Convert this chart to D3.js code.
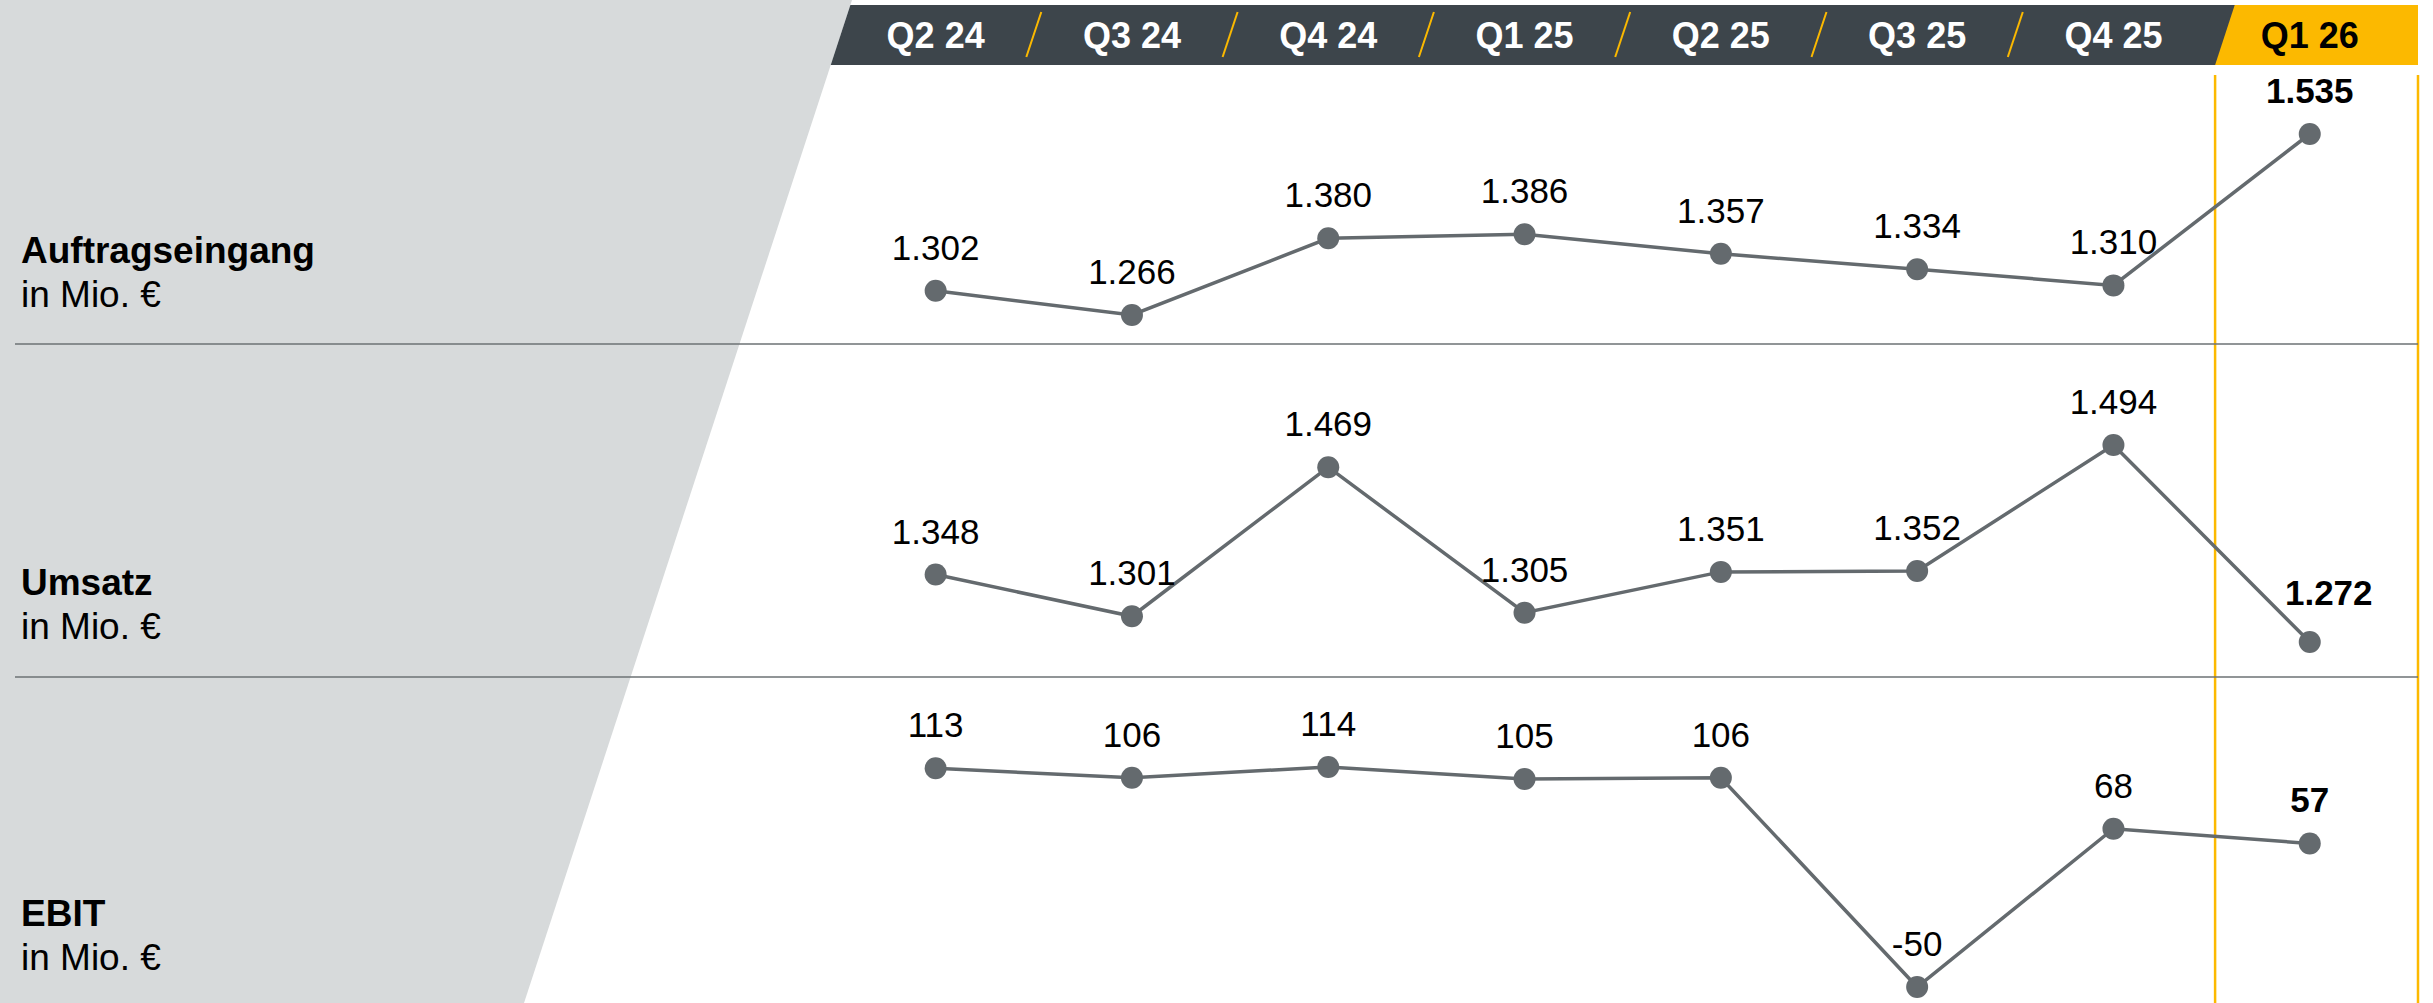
<!DOCTYPE html>
<html><head><meta charset="utf-8">
<script src="https://cdn.jsdelivr.net/npm/d3@7"></script>
<style>
html,body{margin:0;padding:0;background:#fff;}
svg{display:block;}
text{font-family:"Liberation Sans",Arial,Helvetica,sans-serif;}
</style></head>
<body>
<svg id="chart" width="2433" height="1003"></svg>
<script>
// ---- data ----
const quarters = ["Q2 24","Q3 24","Q4 24","Q1 25","Q2 25","Q3 25","Q4 25","Q1 26"];
const auftragseingang = [1302,1266,1380,1386,1357,1334,1310,1535];
const umsatz = [1348,1301,1469,1305,1351,1352,1494,1272];
const ebit = [113,106,114,105,106,-50,68,57];
const rowTitles = ["Auftragseingang","Umsatz","EBIT"];
const rowUnit = "in Mio. €";

// ---- layout ----
const W = 2433, H = 1003;
const svg = d3.select("#chart");
const gray = "#d7dadb", dark = "#3d454b", yellow = "#fcb900", lineCol = "#646a6e";
const slant = 0.327;          // dx per dy of the slanted edge
const panelTopX = 852;

const de = d3.formatLocale({decimal:",", thousands:".", grouping:[3], currency:["","€"], minus:"-"});
const fmt = de.format(",");

const x = d3.scaleBand().domain(quarters).range([837.5, 837.5 + 8*196.3]).padding(0);
const cx = q => x(q) + x.bandwidth()/2;

// left gray panel
svg.append("path")
  .attr("d", `M0,0 L${panelTopX},0 L${panelTopX - slant*H},${H} L0,${H} Z`)
  .attr("fill", gray);

// header band
const bandTop = 5, bandBot = 65;
const edgeX = y => panelTopX - slant*y;
const lastX0 = x(quarters[quarters.length-1]) + 3.5; // left edge of highlighted column at bottom
const rightX = 2418;
svg.append("path")
  .attr("d", `M${edgeX(bandTop)},${bandTop} L${lastX0 + slant*(bandBot-bandTop)+2},${bandTop} L${lastX0+2},${bandBot} L${edgeX(bandBot)},${bandBot} Z`)
  .attr("fill", dark);
svg.append("path")
  .attr("d", `M${lastX0 + slant*(bandBot-bandTop)},${bandTop} L${rightX},${bandTop} L${rightX},${bandBot} L${lastX0},${bandBot} Z`)
  .attr("fill", yellow);

// separators
quarters.slice(0, -2).forEach((q, i) => {
  const xm = x(quarters[i+1]);
  svg.append("line")
    .attr("x1", xm - 7.5).attr("y1", 57).attr("x2", xm + 7.5).attr("y2", 12)
    .attr("stroke", yellow).attr("stroke-width", 2);
});

// header labels
const hdr = svg.append("g").selectAll("text").data(quarters).join("text")
  .attr("x", d => cx(d)).attr("y", 48)
  .attr("text-anchor", "middle")
  .style("font-family", '"Liberation Sans Narrow","Arial Narrow","Liberation Sans",Arial,sans-serif')
  .attr("font-weight", "bold").attr("font-size", 36)
  .attr("fill", (d,i) => i === quarters.length-1 ? "#000" : "#fff")
  .text(d => d);
// compress if narrow face unavailable
hdr.each(function(d){
  const w = this.getComputedTextLength();
  const target = d.length * 19.2;
  if (w > target * 1.08) {
    const c = cx(d);
    d3.select(this).attr("transform", `translate(${c},0) scale(${target/w},1) translate(${-c},0)`);
  }
});

// highlight box
svg.append("line").attr("x1", lastX0).attr("x2", lastX0).attr("y1", 75).attr("y2", H)
  .attr("stroke", yellow).attr("stroke-width", 2.5);
svg.append("line").attr("x1", rightX).attr("x2", rightX).attr("y1", 75).attr("y2", H)
  .attr("stroke", yellow).attr("stroke-width", 2.5);

// row dividers
[344, 677].forEach(y => {
  svg.append("line").attr("x1", 15).attr("x2", rightX).attr("y1", y).attr("y2", y)
    .attr("stroke", "#6d7275").attr("stroke-width", 1.5);
});

// rows
const rows = [
  {title: rowTitles[0], data: auftragseingang, y: d3.scaleLinear().domain([1266,1535]).range([315,134]), ty: 263},
  {title: rowTitles[1], data: umsatz, y: d3.scaleLinear().domain([1272,1494]).range([642,445]), ty: 595},
  {title: rowTitles[2], data: ebit, y: d3.scaleLinear().domain([-50,114]).range([987,767]), ty: 926}
];

rows.forEach((r, ri) => {
  const g = svg.append("g");
  g.append("text").attr("x", 21).attr("y", r.ty)
    .attr("font-size", 37).attr("font-weight", "bold").attr("fill", "#000").text(r.title);
  g.append("text").attr("x", 21).attr("y", r.ty + 44)
    .attr("font-size", 37).attr("fill", "#000").text(rowUnit);

  const pts = r.data.map((v, i) => [cx(quarters[i]), r.y(v), v, i]);
  g.append("path")
    .attr("d", d3.line()(pts.map(p => [p[0], p[1]])))
    .attr("fill", "none").attr("stroke", lineCol).attr("stroke-width", 3.5);
  g.selectAll("circle").data(pts).join("circle")
    .attr("cx", p => p[0]).attr("cy", p => p[1]).attr("r", 11).attr("fill", lineCol);
  g.selectAll("text.val").data(pts).join("text").attr("class", "val")
    .attr("x", p => p[0] + ((ri === 1 && p[3] === quarters.length-1) ? 19 : 0))
    .attr("y", p => p[1] - ((ri === 1 && p[3] === quarters.length-1) ? 37 : 31))
    .attr("text-anchor", "middle").attr("font-size", 35)
    .attr("font-weight", p => p[3] === quarters.length-1 ? "bold" : "normal")
    .attr("fill", "#000")
    .text(p => fmt(p[2]));
});
</script>
</body></html>
